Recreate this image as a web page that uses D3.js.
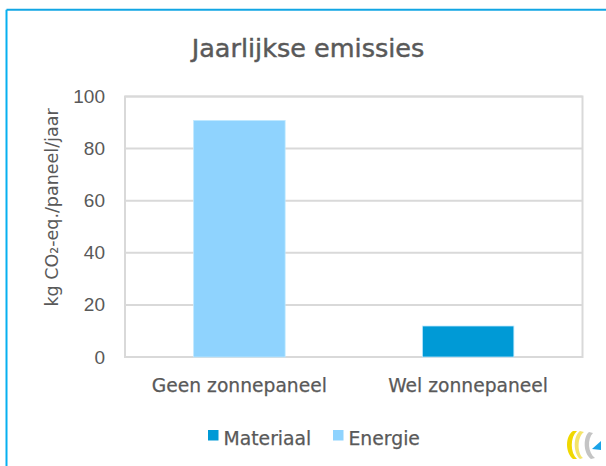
<!DOCTYPE html>
<html>
<head>
  <meta charset="utf-8">
  <title>Jaarlijkse emissies</title>
  <script src="https://d3js.org/d3.v7.min.js"></script>
  <style>
    body { margin: 0; background: #fff; }
    text { fill: #595959; }
    .tick text { font-family: "Liberation Sans", sans-serif; font-size: 19px; }
  </style>
</head>
<body>
  <svg id="chart"></svg>
  <script>
    // data
    var categories = ["Geen zonnepaneel", "Wel zonnepaneel"];
    var seriesNames = ["Materiaal", "Energie"];
    var materiaal = [0, 11.9];
    var energie = [90.8, 0];
    var yTicks = [0, 20, 40, 60, 80, 100];
    var colors = ["#009ad6", "#8fd3fe"];

    var W = 606, H = 466;
    var margin = { top: 96.5, right: 23.5, bottom: 109, left: 125 };
    var width = W - margin.left - margin.right,
      height = H - margin.top - margin.bottom;
    var font = "'DejaVu Sans', sans-serif";

    var svg = d3.select("#chart").attr("width", W).attr("height", H);

    // outer frame (only top/left visible)
    svg.append("line").attr("x1", 6.5).attr("x2", W).attr("y1", 9.8).attr("y2", 9.8)
      .attr("stroke", "#12a6e4").attr("stroke-width", 2);
    svg.append("line").attr("x1", 6.5).attr("x2", 6.5).attr("y1", 9.8).attr("y2", H)
      .attr("stroke", "#06b0f0").attr("stroke-width", 2);

    // title
    svg.append("text").attr("x", 308).attr("y", 57)
      .attr("text-anchor", "middle")
      .style("font-family", font).style("font-size", "25.5px")
      .style("stroke", "#595959").style("stroke-width", "0.45px")
      .text("Jaarlijkse emissies");

    var chart = svg.append("g")
      .attr("transform", "translate(" + margin.left + "," + margin.top + ")");

    var x = d3.scaleBand().domain(categories).range([0, width]).paddingInner(0.6).paddingOuter(0.3);
    var y = d3.scaleLinear().domain([0, 100]).range([height, 0]);

    // gridlines + plot box
    chart.append("g").selectAll("line").data(yTicks).enter().append("line")
      .attr("x1", 0).attr("x2", width)
      .attr("y1", function (d) { return y(d); }).attr("y2", function (d) { return y(d); })
      .attr("stroke", "#d9d9d9").attr("stroke-width", 2);
    chart.append("rect").attr("width", width).attr("height", height)
      .attr("fill", "none").attr("stroke", "#d9d9d9").attr("stroke-width", 2);

    // y axis
    var yAxis = chart.append("g").attr("transform", "translate(-17,0)")
      .call(d3.axisLeft(y).tickValues(yTicks).tickSize(0));
    yAxis.select(".domain").remove();

    // x axis
    var xAxis = chart.append("g")
      .attr("transform", "translate(0," + height + ")")
      .call(d3.axisBottom(x).tickSize(0));
    xAxis.select(".domain").remove();
    xAxis.selectAll("text")
      .attr("y", 35).attr("dy", null)
      .style("font-family", font).style("font-size", "18.7px")
      .style("stroke", "#595959").style("stroke-width", "0.25px");

    // stacked bars
    var table = categories.map(function (c, i) {
      return { cat: c, Materiaal: materiaal[i], Energie: energie[i] };
    });
    var stacked = d3.stack().keys(seriesNames)(table);
    chart.selectAll(".series").data(stacked).enter().append("g")
      .attr("fill", function (d, i) { return colors[i]; })
      .selectAll("rect").data(function (d) { return d; }).enter().append("rect")
      .filter(function (d) { return d[1] - d[0] > 0; })
      .attr("x", function (d) { return x(d.data.cat); })
      .attr("width", x.bandwidth())
      .attr("y", function (d) { return y(d[1]); })
      .attr("height", function (d) { return y(d[0]) - y(d[1]); })
      .attr("stroke", "#bfe8ff").attr("stroke-width", 0.8);

    // y label
    svg.append("text")
      .attr("transform", "translate(58,207.5) rotate(-90)")
      .attr("text-anchor", "middle")
      .style("font-family", font).style("font-size", "17.5px")
      .text("kg CO\u2082-eq./paneel/jaar");

    // legend
    var legX = [208, 333];
    var leg = svg.append("g").selectAll("g").data(seriesNames).enter().append("g")
      .attr("transform", function (d, i) { return "translate(" + legX[i] + ",430)"; });
    leg.append("rect").attr("width", 10.5).attr("height", 10.5)
      .attr("fill", function (d, i) { return colors[i]; });
    leg.append("text").attr("x", 15.5).attr("y", 15)
      .style("font-family", font).style("font-size", "18.8px")
      .style("stroke", "#595959").style("stroke-width", "0.25px")
      .text(function (d) { return d; });

    // small logo
    var logo = svg.append("g").attr("transform", "translate(565,431)");
    logo.append("path").attr("d", "M8,0 C0,5 0,22 8,28 L12,28 C5,22 5,6 12,0 Z").attr("fill", "#f0d800");
    logo.append("path").attr("d", "M15,0 C8,5 8,22 15,28 L18,27 C12,22 12,6 19,1 Z").attr("fill", "#f4e46a");
    logo.append("path").attr("d", "M24,1 C18,6 18,22 26,28 L30,27 C23,22 22,8 28,2 Z").attr("fill", "#c4c4c4");
    logo.append("path").attr("d", "M27,18 L36,10 L36,19 Z").attr("fill", "#1aa3e8");
  </script>
</body>
</html>
